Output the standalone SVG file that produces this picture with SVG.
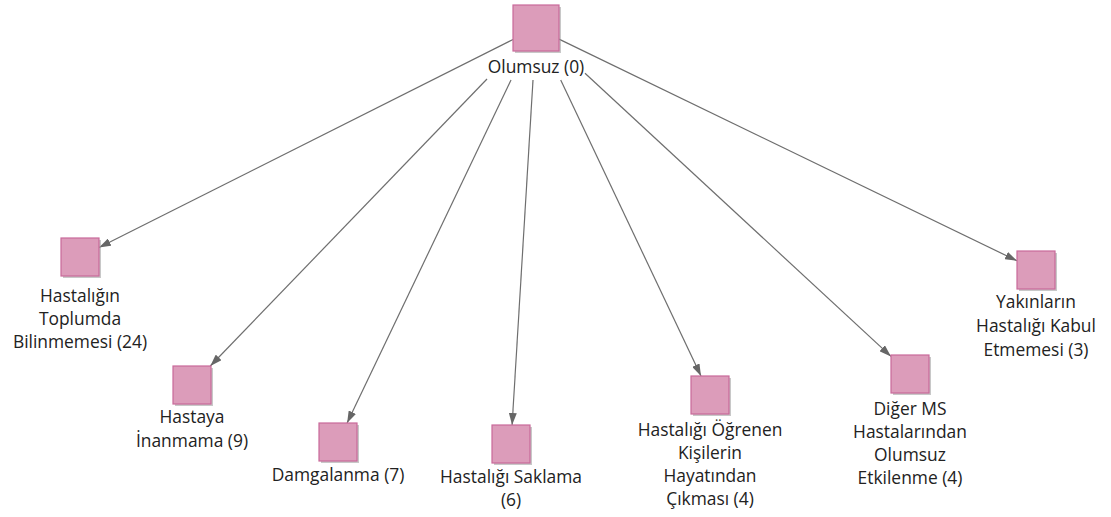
<svg xmlns="http://www.w3.org/2000/svg" width="1111" height="517" viewBox="0 0 1111 517">
  <defs>
    <marker id="arrow" viewBox="0 0 12 8" refX="12" refY="4" markerWidth="12" markerHeight="8" markerUnits="userSpaceOnUse" orient="auto">
      <path d="M0,0 L12,4 L0,8 Z" fill="#666666"/>
    </marker>
  </defs>
  <style>
    .shadow { fill: #9a9a9a; opacity: 0.55; }
    .box { fill: #dc9cba; stroke: #c9699a; stroke-width: 1.2; }
    .label { font-family: "Open Sans", "Noto Sans", sans-serif; font-size: 17.4px; fill: #222222; text-anchor: middle; }
    .edge { stroke: #6e6e6e; stroke-width: 1.2; fill: none; marker-end: url(#arrow); }
  </style>
  <rect width="1111" height="517" fill="#ffffff"/>

  <g id="connectors">
    <line class="edge" x1="513" y1="39.5" x2="99" y2="247.5"/>
    <line class="edge" x1="487" y1="79" x2="210.3" y2="366"/>
    <line class="edge" x1="511" y1="80" x2="347.1" y2="423"/>
    <line class="edge" x1="533" y1="80" x2="512.1" y2="425"/>
    <line class="edge" x1="560.7" y1="80" x2="701" y2="376"/>
    <line class="edge" x1="585" y1="73.3" x2="891" y2="356.4"/>
    <line class="edge" x1="559" y1="39.1" x2="1017" y2="260.8"/>
  </g>

  <g id="node-root">
    <rect class="shadow" x="515" y="7" width="46" height="46"/>
    <rect class="box" x="513" y="5" width="46" height="46"/>
    <text class="label" x="536" y="73">Olumsuz (0)</text>
  </g>

  <g id="node-toplumda">
    <rect class="shadow" x="63" y="240" width="38" height="38"/>
    <rect class="box" x="61" y="238" width="38" height="38"/>
    <text class="label" x="80" y="302">Hastalığın</text>
    <text class="label" x="80" y="325">Toplumda</text>
    <text class="label" x="80" y="348">Bilinmemesi (24)</text>
  </g>

  <g id="node-inanmama">
    <rect class="shadow" x="175" y="368" width="38" height="38"/>
    <rect class="box" x="173" y="366" width="38" height="38"/>
    <text class="label" x="192" y="423">Hastaya</text>
    <text class="label" x="192" y="447">İnanmama (9)</text>
  </g>

  <g id="node-damgalanma">
    <rect class="shadow" x="321" y="425" width="38" height="38"/>
    <rect class="box" x="319" y="423" width="38" height="38"/>
    <text class="label" x="338" y="481">Damgalanma (7)</text>
  </g>

  <g id="node-saklama">
    <rect class="shadow" x="494" y="427" width="38" height="38"/>
    <rect class="box" x="492" y="425" width="38" height="38"/>
    <text class="label" x="511" y="483">Hastalığı Saklama</text>
    <text class="label" x="511" y="506">(6)</text>
  </g>

  <g id="node-cikmasi">
    <rect class="shadow" x="693" y="378" width="38" height="38"/>
    <rect class="box" x="691" y="376" width="38" height="38"/>
    <text class="label" x="710" y="436">Hastalığı Öğrenen</text>
    <text class="label" x="710" y="459">Kişilerin</text>
    <text class="label" x="710" y="482">Hayatından</text>
    <text class="label" x="710" y="505">Çıkması (4)</text>
  </g>

  <g id="node-etkilenme">
    <rect class="shadow" x="893" y="357" width="38" height="38"/>
    <rect class="box" x="891" y="355" width="38" height="38"/>
    <text class="label" x="910" y="415">Diğer MS</text>
    <text class="label" x="910" y="438">Hastalarından</text>
    <text class="label" x="910" y="461">Olumsuz</text>
    <text class="label" x="910" y="484">Etkilenme (4)</text>
  </g>

  <g id="node-yakinlar">
    <rect class="shadow" x="1019" y="253" width="38" height="38"/>
    <rect class="box" x="1017" y="251" width="38" height="38"/>
    <text class="label" x="1036" y="308">Yakınların</text>
    <text class="label" x="1036" y="332">Hastalığı Kabul</text>
    <text class="label" x="1036" y="356">Etmemesi (3)</text>
  </g>
</svg>
